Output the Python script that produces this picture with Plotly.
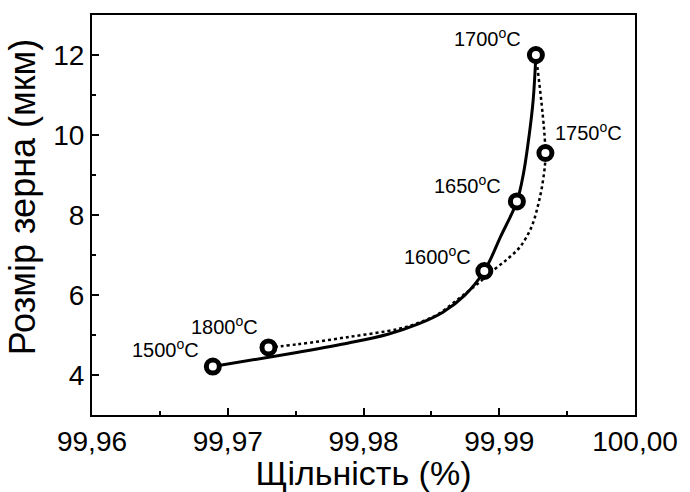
import plotly.graph_objects as go

# Data points (density %, grain size µm) and their sintering temperatures
temps = ["1500", "1600", "1650", "1700", "1750", "1800"]
density = [99.9689, 99.9889, 99.9913, 99.9927, 99.9934, 99.9730]
grain = [4.21, 6.60, 8.34, 12.0, 9.55, 4.69]

# Solid trend curve (1500 -> 1700)
solid_x = [99.9689, 99.9752, 99.9789, 99.9818, 99.9840, 99.98585, 99.98745,
           99.9889, 99.9901, 99.9913, 99.99177, 99.99221, 99.9925, 99.9927]
solid_y = [4.21, 4.57, 4.80, 5.02, 5.27, 5.57, 5.99,
           6.60, 7.46, 8.34, 9.01, 10.01, 10.88, 12.0]

# Dotted trend curve (1700 -> 1750 -> 1800)
dot_x = [99.9927, 99.9934, 99.99323, 99.99287, 99.99236, 99.99155, 99.99067,
         99.98965, 99.98826, 99.98694, 99.98548, 99.98402, 99.98255,
         99.9789, 99.9752, 99.9730]
dot_y = [12.0, 9.55, 8.88, 8.26, 7.69, 7.21, 6.92,
         6.64, 6.24, 5.89, 5.52, 5.30, 5.15,
         4.95, 4.77, 4.69]

x_tickvals = [99.96, 99.97, 99.98, 99.99, 100.00]
x_ticktext = ["99,96", "99,97", "99,98", "99,99", "100,00"]
x_minor = [99.965, 99.975, 99.985, 99.995]
y_tickvals = [4, 6, 8, 10, 12]
y_ticktext = ["4", "6", "8", "10", "12"]
y_minor = [5, 7, 9, 11]

x_title = "Щільність (%)"
y_title = "Розмір зерна (мкм)"

# label positions (data coords) for the temperature annotations
label_x = [99.96539, 99.98548, 99.98764, 99.9891, 99.9966, 99.96975]
label_y = [4.66, 7.00, 8.77, 12.44, 10.08, 5.25]

FONT = "Liberation Sans, Arial, sans-serif"

fig = go.Figure()
fig.add_trace(go.Scatter(x=solid_x, y=solid_y, mode="lines",
                         line=dict(color="black", width=3, shape="spline"),
                         showlegend=False, hoverinfo="skip"))
fig.add_trace(go.Scatter(x=dot_x, y=dot_y, mode="lines",
                         line=dict(color="black", width=2.5, dash="dot", shape="spline"),
                         showlegend=False, hoverinfo="skip"))
fig.add_trace(go.Scatter(x=density, y=grain, mode="markers",
                         marker=dict(symbol="circle", size=13, color="white",
                                     line=dict(color="black", width=5)),
                         showlegend=False))

for t, lx, ly in zip(temps, label_x, label_y):
    fig.add_annotation(x=lx, y=ly, xref="x", yref="y",
                       text=f"{t}<sup>o</sup>C", showarrow=False,
                       xanchor="center", yanchor="middle",
                       font=dict(family=FONT, size=20, color="black"))

# y axis title placed as rotated text
fig.add_annotation(x=-0.1265, y=0.545, xref="paper", yref="paper",
                   text=y_title, textangle=-90, showarrow=False,
                   xanchor="center", yanchor="middle",
                   font=dict(family=FONT, size=36, color="black"))

axis_common = dict(showline=True, linecolor="black", linewidth=2, mirror=True,
                   ticks="inside", ticklen=7, tickwidth=2, tickcolor="black",
                   showgrid=False, zeroline=False,
                   tickfont=dict(family=FONT, size=28, color="black"))

fig.update_xaxes(range=[99.96, 100.00], tickmode="array", tickvals=x_tickvals,
                 ticktext=x_ticktext,
                 minor=dict(tickvals=x_minor, ticks="inside", ticklen=4,
                            tickwidth=2, tickcolor="black"),
                 title=dict(text=x_title, standoff=0,
                            font=dict(family=FONT, size=34, color="black")),
                 **axis_common)
fig.update_yaxes(range=[3, 13], tickmode="array", tickvals=y_tickvals,
                 ticktext=y_ticktext,
                 minor=dict(tickvals=y_minor, ticks="inside", ticklen=4,
                            tickwidth=2, tickcolor="black"),
                 **axis_common)

fig.update_layout(width=690, height=492,
                  margin=dict(l=92, r=52, t=15, b=75),
                  paper_bgcolor="white", plot_bgcolor="white")

fig.write_html("out.html")
